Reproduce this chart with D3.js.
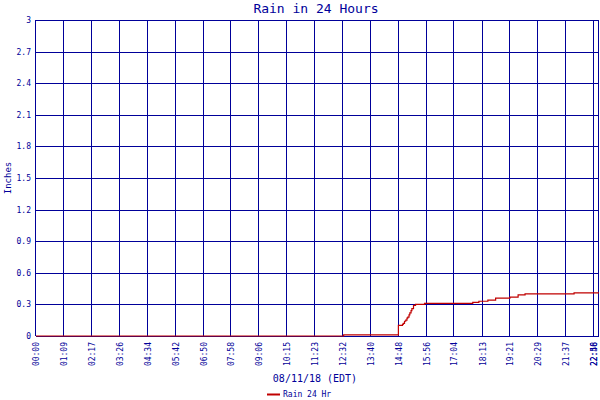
<!DOCTYPE html>
<html>
<head>
<meta charset="utf-8">
<script src="https://cdn.jsdelivr.net/npm/d3@7"></script>
<style>
  body { margin: 0; background: #fff; }
  text { font-family: "DejaVu Sans Mono", monospace; fill: #000099; }
</style>
</head>
<body>
<div id="chart"></div>
<script>
// x tick labels (time of day, EDT)
var tickLabels = ["00:00","01:09","02:17","03:26","04:34","05:42","06:50","07:58","09:06","10:15",
                  "11:23","12:32","13:40","14:48","15:56","17:04","18:13","19:21","20:29","21:37","22:46","22:58"];
var yTicks = [0, 0.3, 0.6, 0.9, 1.2, 1.5, 1.8, 2.1, 2.4, 2.7, 3];

// rain accumulation
var rainTimes = ["00:00","12:33","14:43","14:47","14:57","14:59","15:02","15:05","15:08","15:10",
                 "15:13","15:15","15:18","15:20","15:24","15:29","15:51","17:49","18:04","18:26",
                 "18:45","19:20","19:40","19:57","21:57","22:58"];
var rainValues = [0, 0.01, 0.01, 0.10, 0.11, 0.12, 0.14, 0.15, 0.17, 0.18,
                  0.20, 0.22, 0.24, 0.26, 0.29, 0.30, 0.31, 0.32, 0.33, 0.34,
                  0.36, 0.37, 0.39, 0.40, 0.41, 0.41];

function toMin(s) { var p = s.split(":"); return +p[0] * 60 + +p[1]; }

var width = 600, height = 400;
var mLeft = 36, mRight = 599, mTop = 20, mBottom = 336;
var navy = "#000099", red = "#c00000";

var svg = d3.select("#chart").append("svg")
    .attr("width", width)
    .attr("height", height);

var x = d3.scaleLinear()
    .domain([0, toMin("22:58")])
    .range([mLeft, mRight]);

var y = d3.scaleLinear()
    .domain([0, 3])
    .range([mBottom, mTop]);

// grid
var grid = svg.append("g")
    .attr("shape-rendering", "crispEdges")
    .attr("stroke", navy)
    .attr("stroke-width", 1);

grid.selectAll(".h").data(yTicks).enter().append("line")
    .attr("x1", mLeft).attr("x2", mRight)
    .attr("y1", function(d) { return Math.round(y(d)) + 0.5; })
    .attr("y2", function(d) { return Math.round(y(d)) + 0.5; });

grid.selectAll(".v").data(tickLabels).enter().append("line")
    .attr("y1", mTop).attr("y2", mBottom)
    .attr("x1", function(d) { return Math.round(x(toMin(d))) - 0.5; })
    .attr("x2", function(d) { return Math.round(x(toMin(d))) - 0.5; });

// y labels
svg.selectAll(".yl").data(yTicks).enter().append("text")
    .attr("x", mLeft - 5)
    .attr("y", function(d) { return y(d) + 3; })
    .attr("text-anchor", "end")
    .style("font-size", "8px")
    .text(function(d) { return d; });

// x labels, rotated (last one kept inside the picture)
svg.selectAll(".xl").data(tickLabels).enter().append("text")
    .attr("transform", function(d) {
        var px = Math.min(x(toMin(d)) + 3, width - 3);
        return "translate(" + px + "," + (mBottom + 6) + ") rotate(-90)";
    })
    .attr("text-anchor", "end")
    .style("font-size", "8px")
    .text(function(d) { return d; });

// rain line
var pts = rainTimes.map(function(t, i) { return [toMin(t), rainValues[i]]; });
var line = d3.line()
    .x(function(d) { return x(d[0]); })
    .y(function(d) { return y(d[1]); })
    .curve(d3.curveStepAfter);

svg.append("path")
    .datum(pts)
    .attr("d", line)
    .attr("fill", "none")
    .attr("stroke", red)
    .attr("stroke-width", 1.2);

// titles
svg.append("text")
    .attr("x", 316).attr("y", 13)
    .attr("text-anchor", "middle")
    .style("font-size", "13px")
    .text("Rain in 24 Hours");

svg.append("text")
    .attr("x", 315).attr("y", 382)
    .attr("text-anchor", "middle")
    .style("font-size", "10px")
    .text("08/11/18 (EDT)");

svg.append("text")
    .attr("transform", "translate(11,178) rotate(-90)")
    .attr("text-anchor", "middle")
    .style("font-size", "9px")
    .text("Inches");

// legend
svg.append("line")
    .attr("x1", 267).attr("x2", 280)
    .attr("y1", 394.5).attr("y2", 394.5)
    .attr("stroke", red)
    .attr("stroke-width", 2);

svg.append("text")
    .attr("x", 283).attr("y", 397)
    .style("font-size", "8px")
    .text("Rain 24 Hr");
</script>
</body>
</html>
